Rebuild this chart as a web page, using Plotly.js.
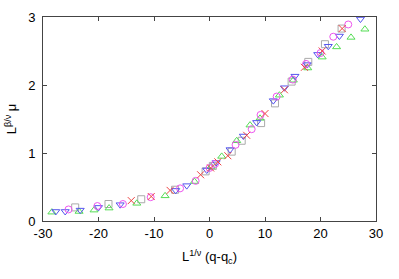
<!DOCTYPE html>
<html><head><meta charset="utf-8">
<script src="https://cdn.plot.ly/plotly-3.0.1.min.js"></script>
<style>html,body{margin:0;padding:0;background:#fff}#c{width:399px;height:279px}</style>
</head><body><div id="c"></div>
<script>
const redX = [-14.1,-10.5,-7.1,-1.6,0.2,1.5,3.3,6.7,10.0,13.5,17.1,20.3,23.9];
const redY = [0.30,0.36,0.45,0.68,0.78,0.87,0.96,1.26,1.58,1.93,2.26,2.50,2.83];
const greenX = [-28.4,-23.5,-20.8,-18.1,-13.1,-8.0,-2.7,0.3,2.2,4.9,7.3,9.1,12.6,15.1,17.7,20.3,22.9,25.5,28.0];
const greenY = [0.13,0.14,0.16,0.19,0.26,0.37,0.58,0.80,0.95,1.18,1.41,1.51,1.85,2.07,2.25,2.41,2.56,2.70,2.82];
const blueX = [-27.7,-26.0,-23.3,-20.0,-16.1,-6.1,-4.1,-0.5,1.2,3.7,6.1,8.5,11.5,13.5,15.4,17.6,19.5,21.4,23.4,27.2];
const blueY = [0.14,0.14,0.16,0.20,0.24,0.45,0.52,0.75,0.86,1.05,1.25,1.45,1.77,1.96,2.13,2.30,2.45,2.57,2.72,2.97];
const magX = [-25.4,-20.2,-15.6,-10.6,-5.3,-2.5,0.0,1.0,4.7,7.6,9.2,12.1,15.0,17.4,20.0,22.3,25.0];
const magY = [0.17,0.22,0.25,0.35,0.48,0.59,0.78,0.84,1.12,1.35,1.56,1.83,2.08,2.31,2.47,2.71,2.89];
const grayX = [-24.2,-18.2,-12.3,-6.2,-0.7,0.6,4.0,5.8,9.3,11.8,14.8,17.8,20.8,23.8];
const grayY = [0.20,0.25,0.32,0.46,0.73,0.81,1.02,1.18,1.44,1.73,2.05,2.34,2.60,2.83];
const xTicks = [-30,-20,-10,0,10,20,30];
const yTicks = [0,1,2,3];

function tr(x,y,sym,col){
  return {x:x,y:y,type:'scatter',mode:'markers',showlegend:false,
    marker:{symbol:sym,size:7,color:col,line:{width:1,color:col}}};
}
const data = [
  tr(grayX,grayY,'square-open','#aaaaaa'),
  tr(greenX,greenY,'triangle-up-open','#55dd55'),
  tr(blueX,blueY,'triangle-down-open','#5555ee'),
  tr(magX,magY,'circle-open','#ee55ee'),
  tr(redX,redY,'x-thin-open','#ee4444')
];
const font = {family:'Liberation Sans, Arial, sans-serif',size:13,color:'#000'};
const layout = {
  width:399,height:279,
  margin:{l:43,r:23,t:17,b:58},
  paper_bgcolor:'#fff',plot_bgcolor:'#fff',
  font:font,
  xaxis:{range:[-30,30],tickvals:xTicks,ticktext:xTicks.map(String),
    showgrid:false,zeroline:false,showline:true,mirror:'ticks',
    linecolor:'#444',linewidth:1,ticks:'inside',ticklen:4,tickcolor:'#444',
    tickfont:font,ticklabelstandoff:0,
    title:{text:'L<sup>1/ν</sup> (q-q<sub>c</sub>)',font:font,standoff:12}},
  yaxis:{range:[0,3],tickvals:yTicks,ticktext:yTicks.map(String),
    showgrid:false,zeroline:false,showline:true,mirror:'ticks',
    linecolor:'#444',linewidth:1,ticks:'inside',ticklen:4,tickcolor:'#444',
    tickfont:font,ticklabelstandoff:4,
    title:{text:'L<sup>β/ν</sup> μ',font:font,standoff:8}}
};
Plotly.newPlot('c',data,layout,{displayModeBar:false,staticPlot:true});
</script></body></html>
